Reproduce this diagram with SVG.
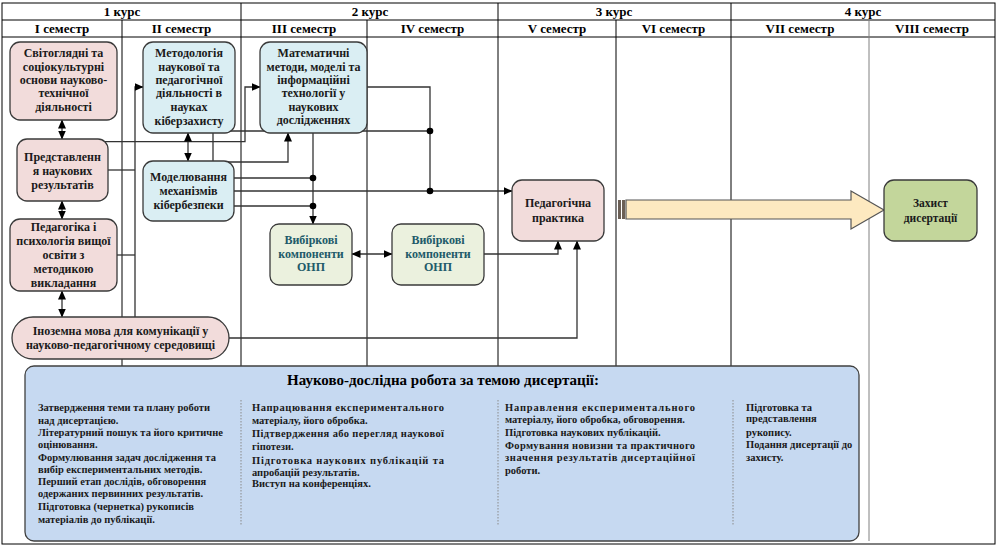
<svg xmlns="http://www.w3.org/2000/svg" width="997" height="546" viewBox="0 0 997 546">
<style>
.hdr{font-family:"Liberation Serif",serif;font-weight:bold;font-size:13px;fill:#000;text-anchor:middle}
.nt{font-family:"Liberation Serif",serif;font-weight:bold;font-size:12px;fill:#1a1a1a;text-anchor:middle}
.nt2{font-family:"Liberation Serif",serif;font-weight:bold;font-size:12px;fill:#215a69;text-anchor:middle}
.bt{font-family:"Liberation Serif",serif;font-weight:bold;font-size:10.5px;fill:#1a1a1a}
.grid{stroke:#000;stroke-width:1;fill:none}
.pink{fill:#f2dcdb;stroke:#3a3a3a;stroke-width:1.3}
.blue{fill:#daeef3;stroke:#3a3a3a;stroke-width:1.3}
.lgreen{fill:#ebf1de;stroke:#3a3a3a;stroke-width:1.3}
.green{fill:#c3d69b;stroke:#3a3a3a;stroke-width:1.3}
.ln{stroke:#333;stroke-width:1.3;fill:none}
.dot{fill:#000}
.dots{stroke:#8a8a8a;stroke-width:1;stroke-dasharray:1.5,1.5}
</style>
<defs>
<marker id="ah" markerWidth="9" markerHeight="8" refX="8.5" refY="4" orient="auto" markerUnits="userSpaceOnUse">
<path d="M0,0 L9,4 L0,8 Z" fill="#000"/>
</marker>
<marker id="as" markerWidth="9" markerHeight="8" refX="0.5" refY="4" orient="auto" markerUnits="userSpaceOnUse">
<path d="M9,0 L0,4 L9,8 Z" fill="#000"/>
</marker>
</defs>
<rect x="0" y="0" width="997" height="546" fill="#fff"/>
<g id="table">
<rect x="2" y="3" width="993" height="541" class="grid"/>
<line x1="2" y1="20" x2="995" y2="20" class="grid"/>
<line x1="2" y1="37" x2="995" y2="37" class="grid"/>
<line x1="122" y1="20" x2="122" y2="541" class="grid"/>
<line x1="241" y1="3" x2="241" y2="541" class="grid"/>
<line x1="367" y1="20" x2="367" y2="541" class="grid"/>
<line x1="498" y1="3" x2="498" y2="541" class="grid"/>
<line x1="616" y1="20" x2="616" y2="541" class="grid"/>
<line x1="731" y1="3" x2="731" y2="541" class="grid"/>
<line x1="869" y1="20" x2="869" y2="541" stroke="#808080" stroke-width="1"/>
<text x="122" y="16" class="hdr">1 курс</text>
<text x="370" y="16" class="hdr">2 курс</text>
<text x="614" y="16" class="hdr">3 курс</text>
<text x="863" y="16" class="hdr">4 курс</text>
<text x="62" y="33" class="hdr">I семестр</text>
<text x="181.5" y="33" class="hdr">II семестр</text>
<text x="304" y="33" class="hdr">III семестр</text>
<text x="432.5" y="33" class="hdr">IV семестр</text>
<text x="557" y="33" class="hdr">V семестр</text>
<text x="673.5" y="33" class="hdr">VI семестр</text>
<text x="800" y="33" class="hdr">VII семестр</text>
<text x="932" y="33" class="hdr">VIII семестр</text>
</g>
<g id="connectors">
<path class="ln" d="M213,161 V131 H430"/>
<path class="ln" d="M104,141.7 H245 V87 H260" marker-end="url(#ah)"/>
<path class="ln" d="M135,317 V87 H143" marker-end="url(#ah)"/>
<path class="ln" d="M108,170 H135"/>
<path class="ln" d="M117,255 H135"/>
<path class="ln" d="M367,87 H430 V191"/>
<path class="ln" d="M234,191 H512" marker-end="url(#ah)"/>
<path class="ln" d="M228,162 H288 V133" marker-end="url(#ah)"/>
<path class="ln" d="M313,133 V224" marker-end="url(#ah)"/>
<path class="ln" d="M234,178 H313"/>
<path class="ln" d="M234,206 H313"/>
<path class="ln" d="M352,254 H392" marker-start="url(#as)" marker-end="url(#ah)"/>
<path class="ln" d="M484,254 H558 V241" marker-end="url(#ah)"/>
<path class="ln" d="M229,338 H577 V241" marker-end="url(#ah)"/>
<path class="ln" d="M62,120 V139" marker-start="url(#as)" marker-end="url(#ah)"/>
<path class="ln" d="M62,201 V219" marker-start="url(#as)" marker-end="url(#ah)"/>
<path class="ln" d="M62,291 V317" marker-start="url(#as)" marker-end="url(#ah)"/>
<path class="ln" d="M188,133 V161" marker-start="url(#as)" marker-end="url(#ah)"/>
<circle cx="430" cy="131" r="3.3" class="dot"/>
<circle cx="430" cy="191" r="3.3" class="dot"/>
<circle cx="313" cy="178" r="3.3" class="dot"/>
<circle cx="313" cy="206" r="3.3" class="dot"/>
</g>
<g id="n-svitohliad">
<rect x="10" y="42" width="107" height="78" rx="10" class="pink"/>
<text class="nt"><tspan x="63.5" y="57">Світоглядні та</tspan><tspan x="63.5" y="71">соціокультурні</tspan><tspan x="63.5" y="84">основи науково-</tspan><tspan x="63.5" y="97">технічної</tspan><tspan x="63.5" y="111">діяльності</tspan></text>
</g>
<g id="n-metodolohiia">
<rect x="143" y="42" width="92" height="91" rx="10" class="blue"/>
<text class="nt"><tspan x="189" y="57">Методологія</tspan><tspan x="189" y="71">наукової та</tspan><tspan x="189" y="84">педагогічної</tspan><tspan x="189" y="97">діяльності в</tspan><tspan x="189" y="111">науках</tspan><tspan x="189" y="125">кіберзахисту</tspan></text>
</g>
<g id="n-matematychni">
<rect x="260" y="42" width="107" height="91" rx="10" class="blue"/>
<text class="nt"><tspan x="313.5" y="57">Математичні</tspan><tspan x="313.5" y="71">методи, моделі та</tspan><tspan x="313.5" y="84">інформаційні</tspan><tspan x="313.5" y="97">технології у</tspan><tspan x="313.5" y="111">наукових</tspan><tspan x="313.5" y="124">дослідженнях</tspan></text>
</g>
<g id="n-predstavlennia">
<rect x="17" y="139" width="91" height="62" rx="10" class="pink"/>
<text class="nt"><tspan x="62.5" y="161">Представленн</tspan><tspan x="62.5" y="175">я наукових</tspan><tspan x="62.5" y="189">результатів</tspan></text>
</g>
<g id="n-modeliuvannia">
<rect x="143" y="161" width="91" height="60" rx="10" class="blue"/>
<text class="nt"><tspan x="188.5" y="181">Моделювання</tspan><tspan x="188.5" y="195">механізмів</tspan><tspan x="188.5" y="209">кібербезпеки</tspan></text>
</g>
<g id="n-pedahohika">
<rect x="10" y="219" width="107" height="72" rx="10" class="pink"/>
<text class="nt"><tspan x="63.5" y="231">Педагогіка і</tspan><tspan x="63.5" y="245">психологія вищої</tspan><tspan x="63.5" y="259">освіти з</tspan><tspan x="63.5" y="273">методикою</tspan><tspan x="63.5" y="287">викладання</tspan></text>
</g>
<g id="n-inozemna">
<rect x="12" y="317" width="217" height="42" rx="21" class="pink"/>
<text class="nt"><tspan x="120.5" y="335">Іноземна мова для комунікації у</tspan><tspan x="120.5" y="349">науково-педагогічному середовищі</tspan></text>
</g>
<g id="n-vybirkovi-3">
<rect x="270" y="224" width="82" height="61" rx="9" class="lgreen"/>
<text class="nt2"><tspan x="311" y="244">Вибіркові</tspan><tspan x="311" y="258">компоненти</tspan><tspan x="311" y="271">ОНП</tspan></text>
</g>
<g id="n-vybirkovi-4">
<rect x="392" y="224" width="92" height="61" rx="9" class="lgreen"/>
<text class="nt2"><tspan x="438" y="244">Вибіркові</tspan><tspan x="438" y="258">компоненти</tspan><tspan x="438" y="271">ОНП</tspan></text>
</g>
<g id="n-praktyka">
<rect x="512" y="180" width="92" height="61" rx="10" class="pink"/>
<text class="nt"><tspan x="558" y="207">Педагогічна</tspan><tspan x="558" y="222">практика</tspan></text>
</g>
<g id="big-arrow">
<rect x="618" y="200" width="3" height="19" fill="#6b5f55"/>
<rect x="622" y="200" width="3" height="19" fill="#6b5f55"/>
<path d="M626,200 H851 V191 L884,210 L851,229 V219 H626 Z" fill="#fde9c0" stroke="#555" stroke-width="1.2"/>
</g>
<g id="n-zakhyst">
<rect x="884" y="180" width="93" height="61" rx="10" class="green"/>
<text class="nt" style="font-size:11.5px"><tspan x="930.5" y="207">Захист</tspan><tspan x="930.5" y="222">дисертації</tspan></text>
</g>
<g id="n-research">
<rect x="25" y="366" width="834" height="175" rx="9" fill="#c6d9f1" stroke="#404040" stroke-width="1.3"/>
<text x="443" y="385" style="font-family:'Liberation Serif',serif;font-weight:bold;font-size:15px;fill:#000;text-anchor:middle">Науково-дослідна робота за темою дисертації:</text>
<line x1="241" y1="400" x2="241" y2="526" class="dots"/>
<line x1="498" y1="400" x2="498" y2="526" class="dots"/>
<line x1="733" y1="400" x2="733" y2="526" class="dots"/>
<text class="bt"><tspan x="38" y="411">Затвердження теми та плану роботи</tspan><tspan x="38" y="424">над дисертацією.</tspan><tspan x="38" y="436">Літературний пошук та його критичне</tspan><tspan x="38" y="448">оцінювання.</tspan><tspan x="38" y="461">Формулювання задач дослідження та</tspan><tspan x="38" y="473">вибір експериментальних методів.</tspan><tspan x="38" y="485">Перший етап дослідів, обговорення</tspan><tspan x="38" y="497">одержаних первинних результатів.</tspan><tspan x="38" y="510">Підготовка (чернетка) рукописів</tspan><tspan x="38" y="523">матеріалів до публікації.</tspan></text>
<text class="bt"><tspan x="252" y="411" textLength="192" lengthAdjust="spacing">Напрацювання експериментального</tspan><tspan x="252" y="424">матеріалу, його обробка.</tspan><tspan x="252" y="437" textLength="192" lengthAdjust="spacing">Підтвердження або перегляд наукової</tspan><tspan x="252" y="450">гіпотези.</tspan><tspan x="252" y="464" textLength="192" lengthAdjust="spacing">Підготовка наукових публікацій та</tspan><tspan x="252" y="476">апробацій результатів.</tspan><tspan x="252" y="487">Виступ на конференціях.</tspan></text>
<text class="bt"><tspan x="505" y="411" textLength="190" lengthAdjust="spacing">Направлення експериментального</tspan><tspan x="505" y="423">матеріалу, його обробка, обговорення.</tspan><tspan x="505" y="436">Підготовка наукових публікацій.</tspan><tspan x="505" y="449" textLength="190" lengthAdjust="spacing">Формування новизни та практичного</tspan><tspan x="505" y="461" textLength="190" lengthAdjust="spacing">значення результатів дисертаційної</tspan><tspan x="505" y="474">роботи.</tspan></text>
<text class="bt"><tspan x="746" y="411">Підготовка та</tspan><tspan x="746" y="422">представлення</tspan><tspan x="746" y="436">рукопису.</tspan><tspan x="746" y="448">Подання дисертації до</tspan><tspan x="746" y="461">захисту.</tspan></text>
</g>
</svg>
